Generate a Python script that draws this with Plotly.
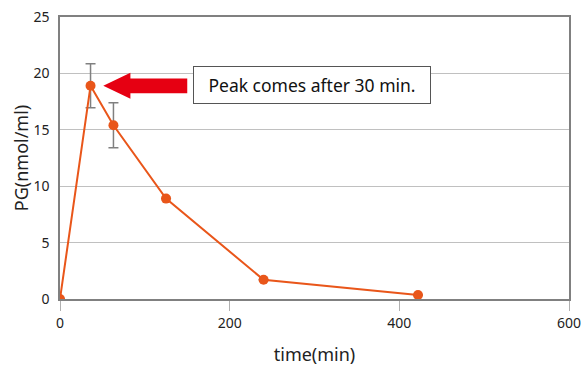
import plotly.graph_objects as go

time_min = [0, 36, 63, 125, 240, 422]
pg_values = [0, 18.9, 15.4, 8.9, 1.7, 0.35]
pg_error = [None, 1.95, 2.0, None, None, None]
x_ticks = [0, 200, 400, 600]
y_ticks = [0, 5, 10, 15, 20, 25]
note_text = "Peak comes after 30 min."

FONT = "Noto Sans"
ORANGE = "#E9561A"
GRAY = "#808080"

fig = go.Figure()
fig.add_trace(go.Scatter(
    x=time_min, y=pg_values, mode="lines+markers",
    line=dict(color=ORANGE, width=2),
    marker=dict(color=ORANGE, size=10),
    error_y=dict(type="data", array=pg_error, visible=True,
                 color=GRAY, thickness=1.5, width=5),
    showlegend=False,
))

# arrow pointing at the peak (relative to the peak point)
px, py = time_min[1], pg_values[1]
tip = px + 15
hb = px + 47
tail = px + 114
path = (f"M {tip},{py} L {hb},{py+1.15} L {hb},{py+0.65} L {tail},{py+0.65} "
        f"L {tail},{py-0.65} L {hb},{py-0.65} L {hb},{py-1.15} Z")
fig.add_shape(type="path", path=path, xref="x", yref="y",
              fillcolor="#E60012", line=dict(width=0))

fig.add_annotation(
    x=297, y=py + 0.05, xref="x", yref="y", text=note_text, showarrow=False,
    xanchor="center", yanchor="middle",
    font=dict(family=FONT, size=17.5, color="#111111"),
    bgcolor="white", bordercolor="#555555", borderwidth=1,
    width=230, height=30, borderpad=3,
)

fig.update_layout(
    width=587, height=373,
    margin=dict(l=60, r=18, t=17, b=74),
    paper_bgcolor="white", plot_bgcolor="white",
    font=dict(family=FONT, size=14, color="#222222"),
    xaxis=dict(
        range=[0, 600], tickvals=x_ticks, ticks="outside", ticklen=10,
        tickcolor="#b0b0b0", tickwidth=1,
        showgrid=False, zeroline=False,
        showline=True, linecolor=GRAY, linewidth=1.5, mirror=True,
        title=dict(text="time(min)", font=dict(family=FONT, size=18), standoff=18),
        tickfont=dict(size=14), ticklabeloverflow="allow",
        automargin=False,
    ),
    yaxis=dict(
        range=[0, 25], tickvals=y_ticks, ticks="",
        showgrid=True, gridcolor="#c0c0c0", gridwidth=1, zeroline=False,
        showline=True, linecolor=GRAY, linewidth=1.5, mirror=True,
        ticklabelstandoff=6,
        title=dict(text="PG(nmol/ml)", font=dict(family=FONT, size=18), standoff=0),
        tickfont=dict(size=14), ticklabeloverflow="allow",
        automargin=False,
    ),
)

fig.write_html(
    "out.html",
    config={"displayModeBar": False},
    post_script="document.body.style.margin='0';document.body.style.overflow='hidden';",
)
